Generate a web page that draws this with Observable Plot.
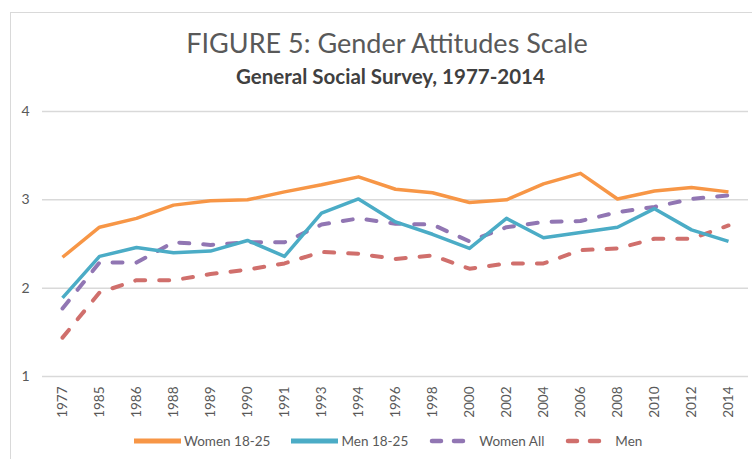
<!DOCTYPE html>
<html>
<head>
<meta charset="utf-8">
<script src="https://cdn.jsdelivr.net/npm/d3@7"></script>
<script src="https://cdn.jsdelivr.net/npm/@observablehq/plot@0.6"></script>
<style>
  html, body { margin: 0; padding: 0; background: #fff; }
  #wrap { position: relative; width: 752px; height: 459px; overflow: hidden; font-family: Lato, "Open Sans", sans-serif; }
  #frame { position: absolute; left: 10px; top: 12px; right: -5px; bottom: -5px; border-left: 1.5px solid #d9d9d9; border-top: 1.5px solid #d9d9d9; }
  #title { position: absolute; left: 0; width: 774px; top: 29px; text-align: center; font-size: 27px; line-height: 1; color: #595959; }
  #subtitle { position: absolute; left: 0; width: 781px; top: 66px; text-align: center; font-size: 20.5px; font-weight: bold; line-height: 1; color: #404040; }
  #chart { position: absolute; left: 0; top: 95px; }
  #legend { position: absolute; left: 134px; top: 433px; display: flex; align-items: center; font-size: 13.5px; color: #595959; line-height: 16px; }
  .item { display: flex; align-items: center; margin-right: 21px; }
  .item svg { margin-right: 3px; }
</style>
</head>
<body>
<div id="wrap">
  <div id="frame"></div>
  <div id="title">FIGURE 5: Gender Attitudes Scale</div>
  <div id="subtitle">General Social Survey, 1977-2014</div>
  <div id="chart"></div>
  <div id="legend"></div>
</div>
<script>
const years = ["1977","1985","1986","1988","1989","1990","1991","1993","1994","1996","1998","2000","2002","2004","2006","2008","2010","2012","2014"];
const women1825 = [2.35, 2.69, 2.79, 2.94, 2.99, 3.00, 3.09, 3.17, 3.26, 3.12, 3.08, 2.97, 3.00, 3.18, 3.30, 3.01, 3.10, 3.14, 3.09];
const men1825   = [1.89, 2.36, 2.46, 2.40, 2.42, 2.54, 2.36, 2.85, 3.01, 2.75, 2.61, 2.45, 2.79, 2.57, 2.63, 2.69, 2.90, 2.66, 2.53];
const womenAll  = [1.77, 2.29, 2.29, 2.52, 2.49, 2.52, 2.52, 2.72, 2.79, 2.73, 2.72, 2.53, 2.69, 2.75, 2.76, 2.86, 2.92, 3.01, 3.05];
const menAll    = [1.44, 1.95, 2.09, 2.09, 2.16, 2.21, 2.28, 2.41, 2.39, 2.33, 2.37, 2.22, 2.28, 2.28, 2.43, 2.45, 2.56, 2.56, 2.71];
const yTicks = [1, 2, 3, 4];

const seriesNames = ["Women 18-25", "Men 18-25", "Women All", "Men"];
const seriesValues = [women1825, men1825, womenAll, menAll];
const colors = ["#f79646", "#4bacc6", "#9176b3", "#d06f6c"];
const dashed = [false, false, true, true];

const tables = seriesValues.map((vals, i) => years.map((y, j) => ({year: y, value: vals[j], series: seriesNames[i]})));

const lineMarks = tables.map((t, i) => Plot.line(t, {
  x: "year", y: "value",
  stroke: colors[i],
  strokeWidth: dashed[i] ? 4 : 3.5,
  strokeDasharray: dashed[i] ? "10,14" : null,
  strokeLinecap: dashed[i] ? "round" : "butt",
  strokeLinejoin: "round"
}));

const order = [3, 2, 1, 0];

const chart = Plot.plot({
  width: 752,
  height: 331,
  marginTop: 16,
  marginBottom: 50,
  marginLeft: 42,
  marginRight: 4,
  style: {fontFamily: "Lato, 'Open Sans', sans-serif", fontSize: "13.5px", color: "#595959", background: "transparent"},
  x: {type: "point", domain: years, padding: 0.5},
  y: {domain: [1, 4]},
  marks: [
    Plot.ruleY(yTicks, {stroke: "#d9d9d9", strokeWidth: 1.5}),
    Plot.axisY({ticks: yTicks, tickFormat: d => String(d), tickSize: 0, tickPadding: 13, label: null, fontSize: 14}),
    Plot.axisX({tickSize: 0, tickRotate: -90, tickPadding: 10, label: null}),
    ...order.map(i => lineMarks[i])
  ]
});
document.getElementById("chart").appendChild(chart);

const legend = document.getElementById("legend");
seriesNames.forEach((name, i) => {
  const item = document.createElement("div");
  item.className = "item";
  const ns = "http://www.w3.org/2000/svg";
  const svg = document.createElementNS(ns, "svg");
  svg.setAttribute("width", 47);
  svg.setAttribute("height", 8);
  const ln = document.createElementNS(ns, "line");
  ln.setAttribute("x1", dashed[i] ? 3 : 0);
  ln.setAttribute("x2", dashed[i] ? 43 : 47);
  ln.setAttribute("y1", 4);
  ln.setAttribute("y2", 4);
  ln.setAttribute("stroke", colors[i]);
  ln.setAttribute("stroke-width", dashed[i] ? 4.5 : 5);
  if (dashed[i]) { ln.setAttribute("stroke-dasharray", "9,13"); ln.setAttribute("stroke-linecap", "round"); }
  svg.appendChild(ln);
  const label = document.createElement("span");
  label.textContent = name;
  item.appendChild(svg);
  item.appendChild(label);
  legend.appendChild(item);
});
</script>
</body>
</html>
